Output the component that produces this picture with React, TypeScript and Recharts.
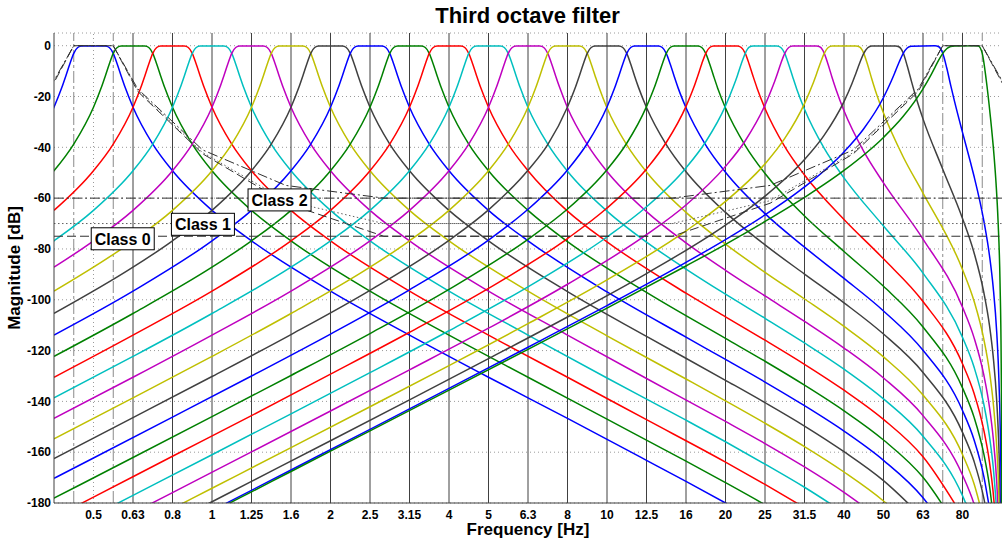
import React from "react";
import {
  LineChart,
  Line,
  XAxis,
  YAxis,
  CartesianGrid,
  ReferenceLine,
  ReferenceDot,
} from "recharts";

type Pt = [number, number];

// x = third-octave band number (10*log10 f): 0 -> 1 Hz, 10 -> 10 Hz, 19 -> 80 Hz
const bandNumbers = [-3, -2, -1, 0, 1, 2, 3, 4, 5, 6, 7, 8, 9, 10, 11, 12, 13, 14, 15, 16, 17, 18, 19];
const bandLabels = ["0.5", "0.63", "0.8", "1", "1.25", "1.6", "2", "2.5", "3.15", "4", "5", "6.3", "8", "10", "12.5", "16", "20", "25", "31.5", "40", "50", "63", "80"];
const yTicks = [0, -20, -40, -60, -80, -100, -120, -140, -160, -180];

// magnitude [dB] of each band filter
const b0_5: Pt[] = [[-4.5, -38.7], [-4, -24.2], [-3.8, -16.4], [-3.7, -11.9], [-3.6, -7.2], [-3.5, -3], [-3.4, -0.7], [-3.3, -0.1], [-2.7, -0.1], [-2.6, -0.7], [-2.5, -3], [-2.4, -7.2], [-2.3, -11.9], [-2.2, -16.4], [-2, -24.2], [-1.5, -38.7], [-1, -49.2], [0, -64.8], [1, -76.8], [3, -96.6], [5, -113.9], [7, -130.5], [9, -146.7], [11, -163.2], [12, -171.5], [13, -180], [14, -188.7]];
const b0_63: Pt[] = [[-4.5, -57.6], [-4, -49.2], [-3.5, -38.7], [-3, -24.2], [-2.8, -16.4], [-2.7, -11.9], [-2.6, -7.2], [-2.5, -3], [-2.4, -0.7], [-2.3, -0.1], [-1.7, -0.1], [-1.6, -0.7], [-1.5, -3], [-1.4, -7.2], [-1.3, -11.9], [-1.2, -16.4], [-1, -24.2], [-0.5, -38.7], [0, -49.2], [1, -64.8], [2, -76.8], [4, -96.6], [6, -113.9], [8, -130.5], [10, -147], [12, -163.5], [13, -172], [14, -180.7], [15, -189.8]];
const b0_8: Pt[] = [[-4, -64.8], [-3, -49.2], [-2.5, -38.7], [-2, -24.2], [-1.8, -16.4], [-1.7, -11.9], [-1.6, -7.2], [-1.5, -3], [-1.4, -0.7], [-1.3, -0.1], [-0.7, -0.1], [-0.6, -0.7], [-0.5, -3], [-0.4, -7.2], [-0.3, -11.9], [-0.2, -16.4], [0, -24.2], [0.5, -38.7], [1, -49.2], [2, -64.8], [3, -76.8], [5, -96.6], [7, -113.9], [9, -130.5], [11, -147.2], [13, -163.9], [14, -172.7], [15, -181.8]];
const b1: Pt[] = [[-5, -87.2], [-4, -76.8], [-3, -64.8], [-2, -49.2], [-1.5, -38.7], [-1, -24.2], [-0.8, -16.4], [-0.7, -11.9], [-0.6, -7.2], [-0.5, -3], [-0.4, -0.7], [-0.3, -0.1], [0.3, -0.1], [0.4, -0.7], [0.5, -3], [0.6, -7.2], [0.7, -11.9], [0.8, -16.4], [1, -24.2], [1.5, -38.7], [2, -49.2], [3, -64.8], [4, -76.8], [6, -96.6], [8, -113.9], [10, -130.8], [12, -147.4], [13, -155.9], [14, -164.7], [15, -173.8], [16, -183.8]];
const b1_25: Pt[] = [[-4, -87.2], [-3, -76.8], [-2, -64.8], [-1, -49.2], [-0.5, -38.7], [0, -24.2], [0.2, -16.4], [0.3, -11.9], [0.4, -7.2], [0.5, -3], [0.6, -0.7], [0.7, -0.1], [1.3, -0.1], [1.4, -0.7], [1.5, -3], [1.6, -7.2], [1.7, -11.9], [1.8, -16.4], [2, -24.2], [2.5, -38.7], [3, -49.2], [4, -64.8], [5, -76.8], [7, -96.6], [9, -113.9], [11, -131], [13, -147.9], [14, -156.6], [15, -165.8], [16, -175.8], [17, -187.2]];
const b1_6: Pt[] = [[-4, -96.6], [-2, -76.8], [-1, -64.8], [0, -49.2], [0.5, -38.7], [1, -24.2], [1.2, -16.4], [1.3, -11.9], [1.4, -7.2], [1.5, -3], [1.6, -0.7], [1.7, -0.1], [2.3, -0.1], [2.4, -0.7], [2.5, -3], [2.6, -7.2], [2.7, -11.9], [2.8, -16.4], [3, -24.2], [3.5, -38.7], [4, -49.2], [5, -64.8], [6, -76.8], [8, -96.6], [10, -114.2], [12, -131.2], [13, -139.8], [14, -148.6], [15, -157.8], [16, -167.8], [17, -179.2], [18, -193.9]];
const b2: Pt[] = [[-4, -105.4], [-2, -87.2], [-1, -76.8], [0, -64.8], [1, -49.2], [1.5, -38.7], [2, -24.2], [2.2, -16.4], [2.3, -11.9], [2.4, -7.2], [2.5, -3], [2.6, -0.7], [2.7, -0.1], [3.3, -0.1], [3.4, -0.7], [3.5, -3], [3.6, -7.2], [3.7, -11.9], [3.8, -16.4], [4, -24.2], [4.5, -38.7], [5, -49.2], [6, -64.8], [7, -76.8], [9, -96.8], [11, -114.4], [13, -131.7], [14, -140.5], [15, -149.7], [16, -159.8], [17, -171.2], [18, -185.9]];
const b2_5: Pt[] = [[-4, -113.9], [-2, -96.6], [0, -76.8], [1, -64.8], [2, -49.2], [2.5, -38.7], [3, -24.2], [3.2, -16.4], [3.3, -11.9], [3.4, -7.2], [3.5, -3], [3.6, -0.7], [3.7, -0.1], [4.3, -0.1], [4.4, -0.7], [4.5, -3], [4.6, -7.2], [4.7, -11.9], [4.8, -16.4], [5, -24.2], [5.5, -38.7], [6, -49.2], [7, -64.8], [8, -76.8], [10, -96.9], [12, -114.7], [13, -123.5], [14, -132.4], [15, -141.7], [16, -151.7], [17, -163.2], [18, -177.9], [19, -201.2]];
const b3_15: Pt[] = [[-4, -122.3], [-2, -105.4], [0, -87.2], [1, -76.8], [2, -64.8], [3, -49.2], [3.5, -38.7], [4, -24.2], [4.2, -16.4], [4.3, -11.9], [4.4, -7.2], [4.5, -3], [4.6, -0.7], [4.7, -0.1], [5.3, -0.1], [5.4, -0.7], [5.5, -3], [5.6, -7.2], [5.7, -11.9], [5.8, -16.4], [6, -24.2], [6.5, -38.7], [7, -49.2], [8, -64.8], [9, -77.1], [11, -97.1], [13, -115.2], [14, -124.2], [15, -133.6], [16, -143.7], [17, -155.2], [18, -169.9], [19, -193.2]];
const b4: Pt[] = [[-4, -130.5], [-2, -113.9], [0, -96.6], [2, -76.8], [3, -64.8], [4, -49.2], [4.5, -38.7], [5, -24.2], [5.2, -16.4], [5.3, -11.9], [5.4, -7.2], [5.5, -3], [5.6, -0.7], [5.7, -0.1], [6.3, -0.1], [6.4, -0.7], [6.5, -3], [6.6, -7.2], [6.7, -11.9], [6.8, -16.4], [7, -24.2], [7.5, -38.7], [8, -49.2], [9, -65.1], [10, -77.2], [12, -97.4], [13, -106.7], [14, -115.9], [15, -125.4], [16, -135.6], [17, -147.1], [18, -161.8], [19, -185.2]];
const b5: Pt[] = [[-4, -138.6], [-2, -122.3], [0, -105.4], [2, -87.2], [3, -76.8], [4, -64.8], [5, -49.2], [5.5, -38.7], [6, -24.2], [6.2, -16.4], [6.3, -11.9], [6.4, -7.2], [6.5, -3], [6.6, -0.7], [6.7, -0.1], [7.3, -0.1], [7.4, -0.7], [7.5, -3], [7.6, -7.2], [7.7, -11.9], [7.8, -16.4], [8, -24.3], [8.5, -38.7], [9, -49.4], [10, -65.1], [11, -77.3], [12, -87.9], [13, -97.8], [14, -107.3], [15, -117], [16, -127.3], [17, -139], [18, -153.7], [19, -177.1], [19.294, -188.6]];
const b6_3: Pt[] = [[-4, -146.7], [-2, -130.5], [0, -113.9], [2, -96.6], [4, -76.8], [5, -64.8], [6, -49.2], [6.5, -38.7], [7, -24.2], [7.2, -16.4], [7.3, -11.9], [7.4, -7.2], [7.5, -3], [7.6, -0.7], [7.7, -0.1], [8.3, -0.1], [8.4, -0.7], [8.5, -3], [8.6, -7.2], [8.7, -11.9], [8.8, -16.4], [9, -24.4], [9.5, -38.8], [10, -49.5], [11, -65.3], [12, -77.6], [13, -88.4], [14, -98.5], [15, -108.5], [16, -119], [17, -130.8], [18, -145.6], [19, -169], [19.294, -180.5], [19.542, -195]];
const b8: Pt[] = [[-4, -154.7], [-2, -138.6], [0, -122.3], [2, -105.4], [4, -87.2], [5, -76.8], [6, -64.8], [7, -49.2], [7.5, -38.7], [8, -24.2], [8.2, -16.4], [8.3, -11.9], [8.4, -7.2], [8.5, -3], [8.6, -0.7], [8.7, -0.1], [9.3, -0.1], [9.4, -0.7], [9.5, -3], [9.6, -7.2], [9.7, -11.9], [9.8, -16.5], [10, -24.5], [10.5, -39], [11, -49.7], [12, -65.6], [13, -78.1], [14, -89.2], [15, -99.7], [16, -110.5], [17, -122.5], [18, -137.5], [19, -160.9], [19.294, -172.5], [19.542, -187]];
const b10: Pt[] = [[-4, -162.5], [-2, -146.4], [0, -130.2], [2, -113.7], [4, -96.3], [6, -76.6], [7, -64.6], [8, -49], [8.5, -38.9], [9, -24.1], [9.2, -16.4], [9.3, -11.9], [9.4, -7.2], [9.5, -3], [9.6, -0.7], [9.7, -0.1], [10.3, -0.1], [10.4, -0.7], [10.5, -3], [10.6, -7.2], [10.7, -12], [10.8, -16.5], [11, -24.3], [11.5, -38.9], [12, -49.6], [13, -65.6], [14, -78.4], [15, -89.9], [16, -101.2], [17, -113.5], [18, -128.6], [19, -152.2], [19.294, -163.7], [19.542, -178.3], [19.685, -190.8]];
const b12_5: Pt[] = [[-4, -170.3], [-3, -162.3], [-1, -146.2], [1, -130], [3, -113.5], [5, -96.1], [7, -76.5], [8, -64.4], [9, -48.9], [9.5, -38.5], [10, -24.1], [10.2, -16.4], [10.3, -11.9], [10.4, -7.2], [10.5, -3], [10.6, -0.7], [10.7, -0.1], [11.3, -0.1], [11.4, -0.7], [11.5, -3], [11.6, -7.2], [11.7, -12], [11.8, -16.6], [12, -24.4], [12.5, -39.1], [13, -49.8], [14, -66.1], [15, -79.3], [16, -91.6], [17, -104.4], [18, -119.9], [19, -143.6], [19.294, -155.2], [19.542, -169.7], [19.685, -182.3]];
const b16: Pt[] = [[-5, -186.1], [-4, -178.1], [-2, -162.1], [0, -146], [2, -129.8], [4, -113.3], [6, -95.9], [8, -76.2], [9, -64.3], [10, -48.8], [10.5, -38.4], [11, -24], [11.2, -16.4], [11.3, -11.9], [11.4, -7.2], [11.5, -3], [11.6, -0.7], [11.7, -0.1], [12.3, -0.1], [12.4, -0.7], [12.5, -3], [12.6, -7.2], [12.7, -12], [12.8, -16.6], [13, -24.5], [13.5, -39.3], [14, -50.3], [15, -67], [16, -81], [17, -94.7], [18, -110.7], [19, -134.7], [19.294, -146.3], [19.542, -160.9], [19.685, -173.5], [19.777, -185.2]];
const b20: Pt[] = [[-4, -185.7], [-3, -177.7], [-1, -161.6], [1, -145.6], [3, -129.3], [5, -112.8], [7, -95.5], [9, -75.9], [10, -63.9], [11, -48.5], [11.5, -38.1], [12, -23.9], [12.2, -16.3], [12.3, -11.8], [12.4, -7.1], [12.5, -3], [12.6, -0.7], [12.7, -0.1], [13.3, -0.1], [13.4, -0.7], [13.5, -3], [13.6, -7.3], [13.7, -12.1], [13.8, -16.7], [14, -24.7], [14.5, -39.7], [15, -50.9], [16, -68.4], [17, -83.9], [18, -100.7], [19, -125.2], [19.294, -136.9], [19.542, -151.5], [19.685, -164.1], [19.777, -175.9], [19.868, -193.7]];
const b25: Pt[] = [[-3, -185], [-2, -177], [0, -161], [2, -144.9], [4, -128.7], [6, -112.2], [8, -94.9], [10, -75.3], [11, -63.4], [12, -48.1], [12.5, -37.8], [13, -23.7], [13.2, -16.1], [13.3, -11.8], [13.4, -7.1], [13.5, -3], [13.6, -0.6], [13.7, -0.1], [14.3, -0.1], [14.4, -0.7], [14.5, -3], [14.6, -7.4], [14.7, -12.2], [14.8, -16.9], [15, -25], [15.5, -40.4], [16, -52], [17, -71], [18, -89.5], [19, -114.8], [19.294, -126.6], [19.542, -141.3], [19.685, -154], [19.777, -165.7], [19.868, -183.6]];
const b31_5: Pt[] = [[-2, -183.9], [-1, -175.9], [1, -159.9], [3, -143.8], [5, -127.6], [7, -111.2], [9, -93.9], [11, -74.4], [12, -62.7], [13, -47.5], [13.5, -37.4], [14, -23.4], [14.2, -15.9], [14.3, -11.6], [14.4, -7], [14.5, -3], [14.6, -0.7], [14.7, -0.1], [15.3, -0.1], [15.4, -0.6], [15.5, -3], [15.6, -7.5], [15.7, -12.6], [15.8, -17.3], [16, -25.6], [16.5, -41.6], [17, -54], [18, -76.1], [19, -102.9], [19.294, -115], [19.542, -129.8], [19.685, -142.5], [19.777, -154.3], [19.868, -172.1], [19.912, -186.2]];
const b40: Pt[] = [[-1, -182.2], [0, -174.2], [2, -158.2], [4, -142.1], [6, -125.9], [8, -109.4], [10, -92.2], [12, -72.9], [13, -61.3], [14, -46.5], [14.5, -36.5], [15, -22.8], [15.2, -15.5], [15.3, -11.3], [15.4, -6.9], [15.5, -3], [15.6, -0.7], [15.7, -0.1], [16.3, -0.1], [16.4, -0.6], [16.5, -3], [16.6, -7.6], [16.7, -12.9], [16.8, -17.9], [17, -26.5], [17.5, -43.8], [18, -58], [19, -88.1], [19.294, -100.6], [19.542, -115.7], [19.685, -128.5], [19.777, -140.4], [19.868, -158.2], [19.912, -172.4], [19.956, -196.5]];
const b50: Pt[] = [[-1, -187.5], [0, -179.5], [1, -171.5], [3, -155.5], [5, -139.4], [7, -123.2], [9, -106.8], [11, -89.7], [13, -70.6], [14, -59.2], [15, -44.8], [15.5, -35.2], [16, -22], [16.2, -15], [16.3, -10.9], [16.4, -6.7], [16.5, -3], [16.6, -0.8], [16.7, -0.1], [17.3, -0.1], [17.4, -0.5], [17.5, -2.9], [17.6, -7.9], [17.7, -13.6], [17.8, -19.1], [18, -28.8], [18.5, -48.6], [19, -68], [19.294, -81.6], [19.542, -97.3], [19.685, -110.3], [19.777, -122.3], [19.868, -140.2], [19.912, -154.4], [19.956, -178.5], [19.978, -202.6]];
const b63: Pt[] = [[0, -183], [1, -175], [2, -167], [4, -151], [6, -134.9], [8, -118.7], [10, -102.3], [12, -85.3], [13, -76.3], [14, -66.6], [15, -55.6], [16, -41.8], [16.5, -32.7], [17, -20.4], [17.2, -13.8], [17.3, -10.1], [17.4, -6.3], [17.5, -3], [17.6, -0.9], [17.7, -0.2], [18.3, 0], [18.4, -0.4], [18.5, -3], [18.6, -8.7], [18.7, -15.5], [18.8, -22], [19, -34.1], [19.2, -45.8], [19.294, -51.5], [19.542, -69.1], [19.685, -82.8], [19.777, -95.1], [19.868, -113.2], [19.912, -127.4], [19.956, -151.6], [19.978, -175.7], [19.991, -207.5]];
const b80: Pt[] = [[0, -183.6], [1, -175.6], [2, -167.6], [4, -151.6], [6, -135.6], [8, -119.5], [10, -103.3], [12, -86.7], [13, -78.2], [14, -69.2], [15, -59.7], [16, -49.1], [17, -36.1], [17.5, -27.8], [18, -17], [18.2, -11.6], [18.3, -8.6], [18.4, -5.6], [18.5, -3], [18.6, -1.2], [18.7, -0.3], [18.8, -0.1], [19.3, 0], [19.4, -0.1], [19.5, -3], [19.6, -13.4], [19.7, -27.1], [19.8, -43.6], [19.85, -54.3], [19.9, -68.9], [19.95, -93.1], [19.98, -125], [19.99, -149.1], [19.995, -173.3], [19.997, -191.1]];

const bandCurves = [b0_5, b0_63, b0_8, b1, b1_25, b1_6, b2, b2_5, b3_15, b4, b5, b6_3, b8, b10, b12_5, b16, b20, b25, b31_5, b40, b50, b63, b80];
const colorCycle = ["#0000ff", "#008000", "#ff0000", "#00bfbf", "#bf00bf", "#bfbf00", "#404040"];

// class tolerance masks: offsets from band centre (bands) and minimum attenuation (dB)
const maskSteps = [0.5, 1.12, 2.76, 4.87, 7.35];
const class0Atten = [0, 18, 42.5, 62, 75];
const class1Atten = [0, 17.5, 42, 61, 70];
const class2Atten = [0, 17, 41, 55, 60];

const classNotes = [
  { text: "Class 0", n: -2.26, db: -76 },
  { text: "Class 1", n: -0.23, db: -70.3 },
  { text: "Class 2", n: 1.71, db: -60.7 },
];

const FONT = "'Liberation Sans', Arial, Helvetica, sans-serif";

const toRows = (pts: Pt[]) => pts.map(([n, db]) => ({ n, db }));

const firstBand = bandNumbers[0];
const lastBand = bandNumbers[bandNumbers.length - 1];

const lowMask = (att: number[]) => [
  { n: firstBand - maskSteps[1], db: -att[1] },
  { n: firstBand - maskSteps[0], db: -att[0] },
  ...maskSteps.map((s, i) => ({ n: firstBand + s, db: -att[i] })),
  { n: 20, db: -att[4] },
];

const highMask = (att: number[]) => [
  { n: -4, db: -att[4] },
  ...maskSteps.map((s, i) => ({ n: lastBand - s, db: -att[i] })).reverse(),
  { n: lastBand + maskSteps[0], db: -att[0] },
  { n: lastBand + maskSteps[1], db: -att[1] },
];

const maskStyles = [
  { att: class0Atten, dash: "9 4", color: "#303030" },
  { att: class1Atten, dash: "1.5 2.5", color: "#606060" },
  { att: class2Atten, dash: "10 3 2 3", color: "#303030" },
];

const ClassTag = ({ cx, cy, text }: { cx: number; cy: number; text: string }) => (
  <g>
    <rect x={cx - 31.5} y={cy - 11} width={63} height={22} fill="#ffffff" stroke="#000000" strokeWidth={1} />
    <text x={cx} y={cy + 6} textAnchor="middle" fontSize={16} fontWeight="bold" fontFamily={FONT} fill="#000">
      {text}
    </text>
  </g>
);

export default function App() {
  const tickStyle = { fontSize: 12, fontWeight: "bold", fill: "#000", fontFamily: FONT };
  return (
    <div style={{ position: "absolute", left: 0, top: 0, width: 1007, height: 541, background: "#fff" }}>
      <div
        style={{
          position: "absolute",
          left: 0,
          top: 5,
          width: 1055,
          textAlign: "center",
          fontFamily: FONT,
          fontWeight: "bold",
          fontSize: 22,
          lineHeight: "22px",
        }}
      >
        Third octave filter
      </div>
      <LineChart width={1007} height={541} margin={{ top: 33, right: 5, bottom: 0, left: 0 }}>
        <CartesianGrid vertical={false} stroke="#9a9a9a" strokeDasharray="1 3" />
        <XAxis
          dataKey="n"
          type="number"
          domain={[-4, 20]}
          ticks={bandNumbers}
          interval={0}
          allowDataOverflow
          height={38}
          tickLine={false}
          tickSize={6}
          tickMargin={1}
          axisLine={{ stroke: "#404040" }}
          tick={tickStyle}
          tickFormatter={(v: number) => bandLabels[bandNumbers.indexOf(v)] ?? ""}
          label={{
            value: "Frequency [Hz]",
            position: "insideBottom",
            offset: 6,
            style: { fontSize: 17, fontWeight: "bold", fill: "#000", fontFamily: FONT },
          }}
        />
        <YAxis
          type="number"
          domain={[-180, 5]}
          ticks={yTicks}
          interval={0}
          allowDataOverflow
          width={54}
          tickLine={false}
          tickSize={3}
          tickMargin={0}
          axisLine={{ stroke: "#404040" }}
          tick={tickStyle}
          label={{
            value: "Magnitude [dB]",
            angle: -90,
            position: "insideLeft",
            offset: 14,
            style: { fontSize: 17, fontWeight: "bold", fill: "#000", fontFamily: FONT, textAnchor: "middle" },
          }}
        />
        <ReferenceLine x={firstBand} stroke="#9a9a9a" strokeDasharray="1 3" />
        {bandNumbers.slice(1).map((n) => (
          <ReferenceLine key={`v${n}`} x={n} stroke="#404040" strokeWidth={1} />
        ))}
        {[firstBand - maskSteps[0], firstBand + maskSteps[0], lastBand - maskSteps[0], lastBand + maskSteps[0]].map((n) => (
          <ReferenceLine key={`e${n}`} x={n} stroke="#8a8a8a" strokeDasharray="12 3 3 3" />
        ))}
        {bandCurves.map((pts, i) => (
          <Line
            key={`band${i}`}
            data={toRows(pts)}
            dataKey="db"
            type="monotone"
            stroke={colorCycle[i % colorCycle.length]}
            strokeWidth={1.5}
            dot={false}
            activeDot={false}
            isAnimationActive={false}
          />
        ))}
        {maskStyles.map((m, i) => (
          <Line
            key={`lowmask${i}`}
            data={lowMask(m.att)}
            dataKey="db"
            type="linear"
            stroke={m.color}
            strokeDasharray={m.dash}
            strokeWidth={1}
            dot={false}
            activeDot={false}
            isAnimationActive={false}
          />
        ))}
        {maskStyles.map((m, i) => (
          <Line
            key={`highmask${i}`}
            data={highMask(m.att)}
            dataKey="db"
            type="linear"
            stroke={m.color}
            strokeDasharray={m.dash}
            strokeWidth={1}
            dot={false}
            activeDot={false}
            isAnimationActive={false}
          />
        ))}
        {classNotes.map((c) => (
          <ReferenceDot
            key={c.text}
            x={c.n}
            y={c.db}
            r={0}
            ifOverflow="visible"
            shape={(p: any) => <ClassTag cx={p.cx} cy={p.cy} text={c.text} />}
          />
        ))}
      </LineChart>
    </div>
  );
}
